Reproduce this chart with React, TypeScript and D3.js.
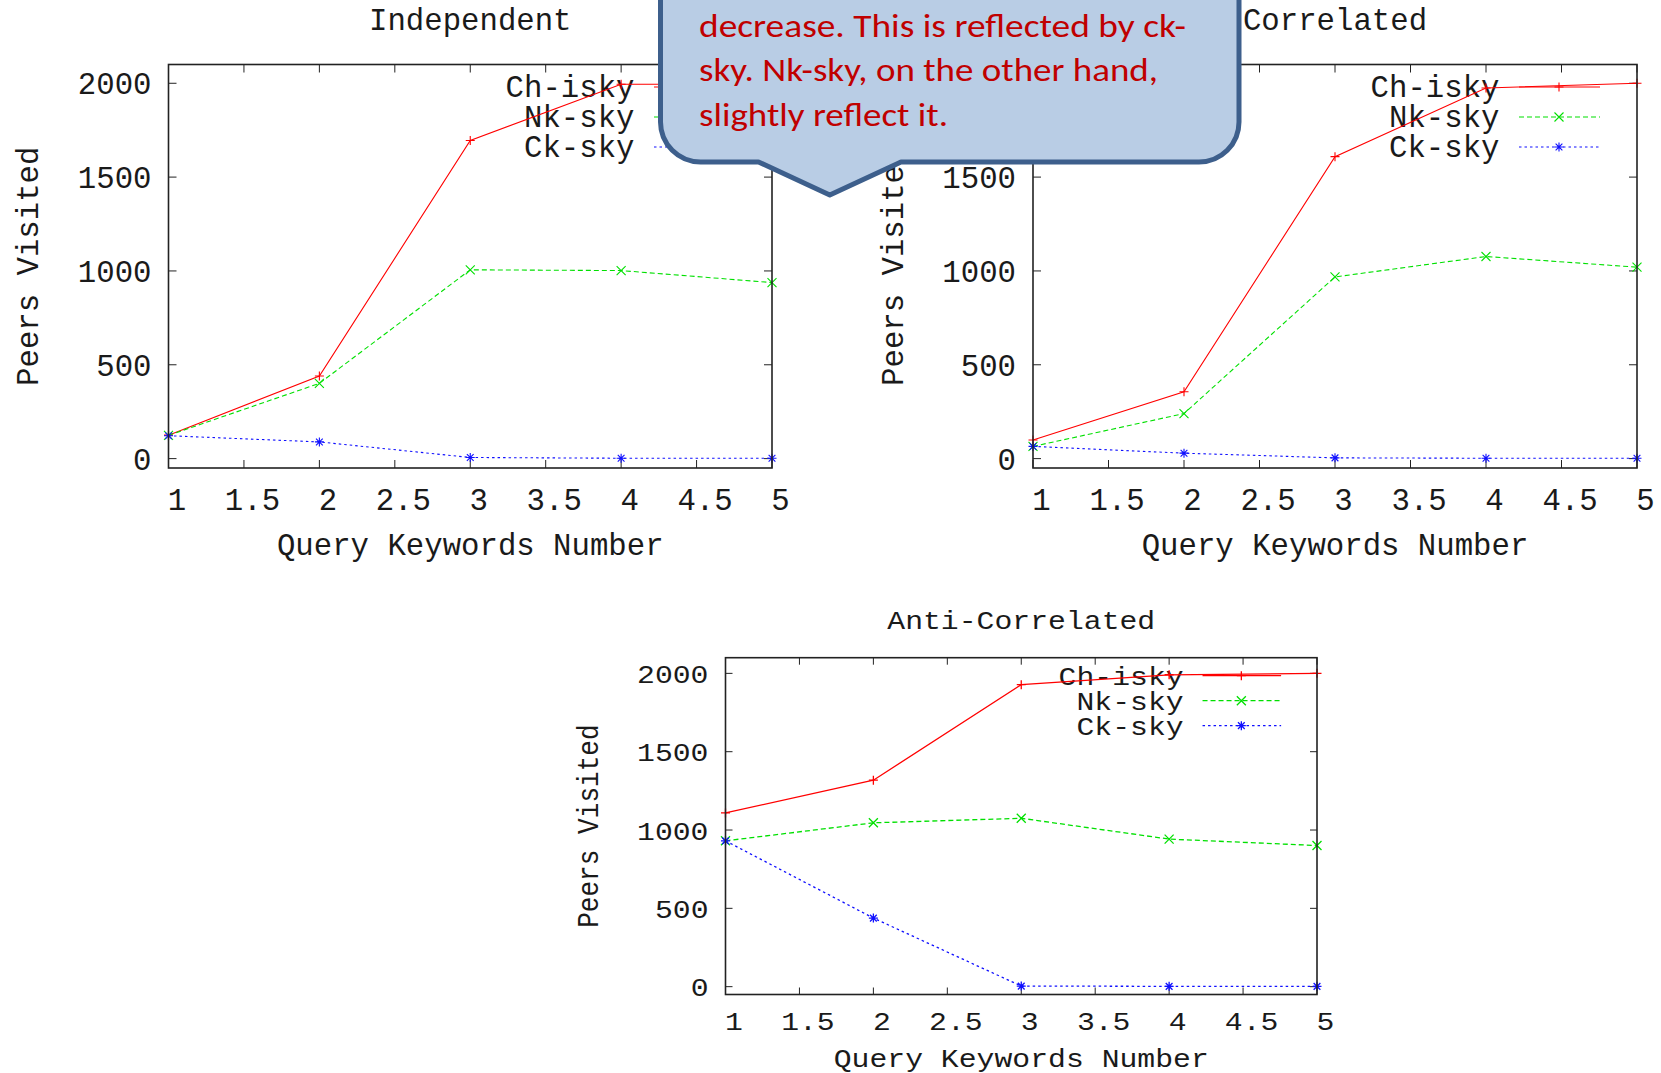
import React from 'react';
import * as d3 from 'd3';

// query keyword counts and axis ticks
const keywordCounts = [1, 2, 3, 4, 5];
const xTickValues = [1, 1.5, 2, 2.5, 3, 3.5, 4, 4.5, 5];
const yTickValues = [0, 500, 1000, 1500, 2000];
const seriesNames = ['Ch-isky', 'Nk-sky', 'Ck-sky'];

// peers visited
const independentCh = [125, 440, 1695, 1995, 1995];
const independentNk = [124, 401, 1006, 1002, 938];
const independentCk = [122, 89, 6, 2, 2];

const correlatedCh = [99, 356, 1609, 1975, 2000];
const correlatedNk = [65, 240, 968, 1077, 1020];
const correlatedCk = [65, 29, 4, 2, 2];

const antiCh = [1109, 1318, 1928, 1991, 2000];
const antiNk = [931, 1046, 1075, 942, 901];
const antiCk = [931, 438, 4, 2, 2];

const calloutLines = [
  'decrease. This is reflected by ck-',
  'sky. Nk-sky, on the other hand,',
  'slightly reflect it.',
];

const MONO = "'Liberation Mono', 'Courier New', monospace";
const SIZE = 30.7;
const colors = ['#ff0000', '#00e000', '#1010ff'];
const dashes = [undefined, '5,3', '2.5,3'];

const marker = (kind: number, s: number) => {
  if (kind === 0) return `M${-s},0H${s}M0,${-s}V${s}`;
  if (kind === 1) return `M${-s},${-s}L${s},${s}M${-s},${s}L${s},${-s}`;
  const d = s * 0.75;
  return `M${-s},0H${s}M0,${-s}V${s}M${-d},${-d}L${d},${d}M${-d},${d}L${d},${-d}`;
};

const Txt = ({ x, y, sx, sy, anchor, rotate, children }: any) => (
  <g transform={`translate(${x},${y}) scale(${sx},${sy})${rotate ? ` rotate(${rotate})` : ''}`}>
    <text x={0} y={0} textAnchor={anchor} fontFamily={MONO} fontSize={SIZE} fill="#1a1a1a">
      {children}
    </text>
  </g>
);

const Panel = (p: any) => {
  const x = d3.scaleLinear().domain([1, 5]).range([p.left, p.right]);
  const y = d3.scaleLinear().domain([-50, 2100]).range([p.bottom, p.top]);
  const line = d3.line<number>().x((_, i) => x(keywordCounts[i])).y(d => y(d));
  const series = [p.ch, p.nk, p.ck];
  const cx = (p.left + p.right) / 2;
  const cy = (p.top + p.bottom) / 2;
  const t = p.tickLen;
  return (
    <g>
      <Txt x={cx} y={p.titleBase} sx={p.sx} sy={p.sy} anchor="middle">{p.title}</Txt>
      {yTickValues.map(v => (
        <g key={'y' + v}>
          <line x1={p.left} x2={p.left + t} y1={y(v)} y2={y(v)} stroke="#222" />
          <line x1={p.right} x2={p.right - t} y1={y(v)} y2={y(v)} stroke="#222" />
          <Txt x={p.left - 17} y={y(v) + p.yLabOff} sx={p.sx} sy={p.sy} anchor="end">{v}</Txt>
        </g>
      ))}
      {xTickValues.map(v => (
        <g key={'x' + v}>
          <line x1={x(v)} x2={x(v)} y1={p.bottom} y2={p.bottom - t} stroke="#222" />
          <line x1={x(v)} x2={x(v)} y1={p.top} y2={p.top + t} stroke="#222" />
          <Txt x={x(v) + 8.5} y={p.xTickBase} sx={p.sx} sy={p.sy} anchor="middle">{v}</Txt>
        </g>
      ))}
      <Txt x={cx} y={p.xLabelBase} sx={p.sx} sy={p.sy} anchor="middle">Query Keywords Number</Txt>
      <Txt x={p.left - p.yLabGap} y={cy} sx={p.sx} sy={p.sy} anchor="middle" rotate={-90}>Peers Visited</Txt>
      {seriesNames.map((n, k) => {
        const by = p.legendBase + k * p.legendGap;
        const ly = by - p.legendLineOff;
        return (
          <g key={n}>
            <Txt x={p.right - 137.5 * p.sx} y={by} sx={p.sx} sy={p.sy} anchor="end">{n}</Txt>
            <line x1={p.right - 118 * p.sx} x2={p.right - 37 * p.sx} y1={ly} y2={ly}
              stroke={colors[k]} strokeWidth={p.lw} strokeDasharray={dashes[k]} />
            <path d={marker(k, 4.5)} transform={`translate(${p.right - 78 * p.sx},${ly})`}
              stroke={colors[k]} strokeWidth={p.lw} fill="none" />
          </g>
        );
      })}
      {series.map((vals: number[], k: number) => (
        <g key={'s' + k}>
          <path d={line(vals) || ''} fill="none" stroke={colors[k]} strokeWidth={p.lw}
            strokeDasharray={dashes[k]} />
          {vals.map((v, i) => (
            <path key={i} d={marker(k, 4.5)} transform={`translate(${x(keywordCounts[i])},${y(v)})`}
              stroke={colors[k]} strokeWidth={p.lw} fill="none" />
          ))}
        </g>
      ))}
      <rect x={p.left} y={p.top} width={p.right - p.left} height={p.bottom - p.top}
        fill="none" stroke="#222" strokeWidth={1.6} />
    </g>
  );
};

const Callout = () => {
  const cl = 660.5, cr = 1239, cb = 162, r = 40;
  const d = `M${cl},-10 V${cb - r} A${r},${r} 0 0 0 ${cl + r},${cb} H758.5 L829.8,195 L901,${cb}` +
    ` H${cr - r} A${r},${r} 0 0 0 ${cr},${cb - r} V-10 Z`;
  const bases = [36.5, 81, 125.5];
  const lengths = [487, 459, 249];
  return (
    <g>
      <path d={d} fill="#b9cde5" stroke="#3d5f8c" strokeWidth={5} strokeLinejoin="round" />
      {calloutLines.map((s, i) => (
        <text key={i} x={699} y={bases[i]} fontFamily="Carlito, 'Open Sans', sans-serif" fontSize={32}
          fill="#c00000" textLength={lengths[i]} lengthAdjust="spacingAndGlyphs">{s}</text>
      ))}
    </g>
  );
};

const top12 = { top: 64.5, bottom: 468, sx: 1, sy: 1, titleBase: 30, xTickBase: 509.5, xLabelBase: 555,
  yLabOff: 11, yLabGap: 130.5, legendBase: 96.5, legendGap: 30, legendLineOff: 9.5, tickLen: 8, lw: 1.1 };

export default function App() {
  return (
    <svg width={1661} height={1073} style={{ position: 'absolute', left: 0, top: 0, background: '#fff' }}>
      <Panel title="Independent" left={168.5} right={772} ch={independentCh} nk={independentNk}
        ck={independentCk} {...top12} />
      <Panel title="Correlated" left={1033} right={1637} ch={correlatedCh} nk={correlatedNk}
        ck={correlatedCk} {...top12} />
      <Panel title="Anti-Correlated" left={725.5} right={1317} top={657.7} bottom={994.5}
        ch={antiCh} nk={antiNk} ck={antiCk} sx={0.97} sy={0.85} titleBase={629.3} xTickBase={1030}
        xLabelBase={1066.7} yLabOff={9.5} yLabGap={128} legendBase={685} legendGap={25}
        legendLineOff={9.3} tickLen={7} lw={1.3} />
      <Callout />
    </svg>
  );
}
